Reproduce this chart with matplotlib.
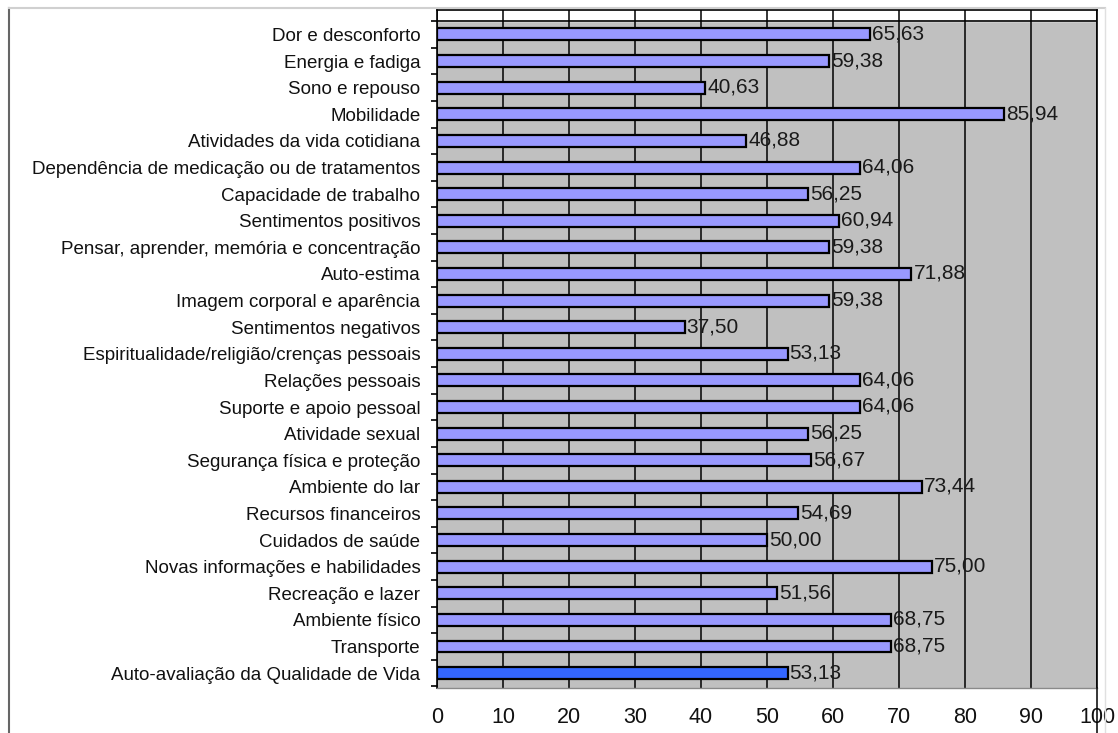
import matplotlib.pyplot as plt
from matplotlib.lines import Line2D
import numpy as np

plt.rcParams["font.family"] = ["Liberation Sans", "DejaVu Sans"]

# ---------------------------------------------------------------------------
# Data
# ---------------------------------------------------------------------------

categories = [
    "Dor e desconforto",
    "Energia e fadiga",
    "Sono e repouso",
    "Mobilidade",
    "Atividades da vida cotidiana",
    "Dependência de medicação ou de tratamentos",
    "Capacidade de trabalho",
    "Sentimentos positivos",
    "Pensar, aprender, memória e concentração",
    "Auto-estima",
    "Imagem corporal e aparência",
    "Sentimentos negativos",
    "Espiritualidade/religião/crenças pessoais",
    "Relações pessoais",
    "Suporte e apoio pessoal",
    "Atividade sexual",
    "Segurança física e proteção",
    "Ambiente do lar",
    "Recursos financeiros",
    "Cuidados de saúde",
    "Novas informações e habilidades",
    "Recreação e lazer",
    "Ambiente físico",
    "Transporte",
    "Auto-avaliação da Qualidade de Vida",
]
scores = [
    65.63, 59.38, 40.63, 85.94, 46.88, 64.06, 56.25, 60.94, 59.38, 71.88,
    59.38, 37.50, 53.13, 64.06, 64.06, 56.25, 56.67, 73.44, 54.69, 50.00,
    75.00, 51.56, 68.75, 68.75, 53.13,
]
x_ticks = [0, 10, 20, 30, 40, 50, 60, 70, 80, 90, 100]

# ---------------------------------------------------------------------------
# Figure
# ---------------------------------------------------------------------------

fig = plt.figure(figsize=(11.18, 7.33), dpi=100)
ax = fig.add_axes([437 / 1118, 1 - 688 / 733, 660 / 1118, 678 / 733])
ax.set_facecolor("#C0C0C0")

n = len(categories)
y = np.arange(n)
colors = ["#9999FF"] * (n - 1) + ["#3366FF"]

ax.set_xlim(0, 100)
ax.set_ylim(n - 0.5 + 0.06, -0.92)

# white strip above the plot area, gridlines pass through it
ax.axhspan(-0.92, -0.5, color="white", zorder=0.5)
ax.axhline(-0.5, color="black", lw=1.2, zorder=1)

for v in x_ticks:
    ax.axvline(v, color="black", lw=1.1, zorder=1)

ax.barh(y, scores, height=0.45, color=colors, edgecolor="black",
        linewidth=1.6, zorder=2)

for yi, v in zip(y, scores):
    ax.text(v + 0.3, yi - 0.02, f"{v:.2f}".replace(".", ","), va="center",
            ha="left", fontsize=15, color="#1a1a1a", zorder=3)

ax.set_yticks(y)
ax.set_yticklabels(categories, fontsize=13.5, color="#111111")
ax.set_yticks(np.arange(-0.5, n, 1.0), minor=True)
ax.tick_params(axis="y", which="major", length=0, pad=12)
ax.tick_params(axis="y", which="minor", length=4.5, width=1.2, direction="out")

ax.set_xticks(x_ticks)
ax.set_xticklabels([str(v) for v in x_ticks], fontsize=15.5, color="#111111")
ax.tick_params(axis="x", length=0, pad=14)

for side in ["top", "left", "right"]:
    ax.spines[side].set_color("black")
    ax.spines[side].set_linewidth(1.2)
ax.spines["bottom"].set_color("#8a8a8a")
ax.spines["bottom"].set_linewidth(1.0)

# the 100 gridline runs down through the tick label
fig.add_artist(Line2D([1097 / 1118, 1097 / 1118], [0, 1 - 688 / 733],
                      color="black", lw=1.1))
# outer frame remnants
fig.add_artist(Line2D([9 / 1118, 9 / 1118], [0, 1 - 8 / 733],
                      color="#666666", lw=1.5))
fig.add_artist(Line2D([9 / 1118, 1105 / 1118], [1 - 8 / 733, 1 - 8 / 733],
                      color="#d0d0d0", lw=1.5))
fig.add_artist(Line2D([1105 / 1118, 1105 / 1118], [0, 1 - 8 / 733],
                      color="#e0e0e0", lw=1.0))

fig.savefig("out.png", dpi=100, facecolor="white")
